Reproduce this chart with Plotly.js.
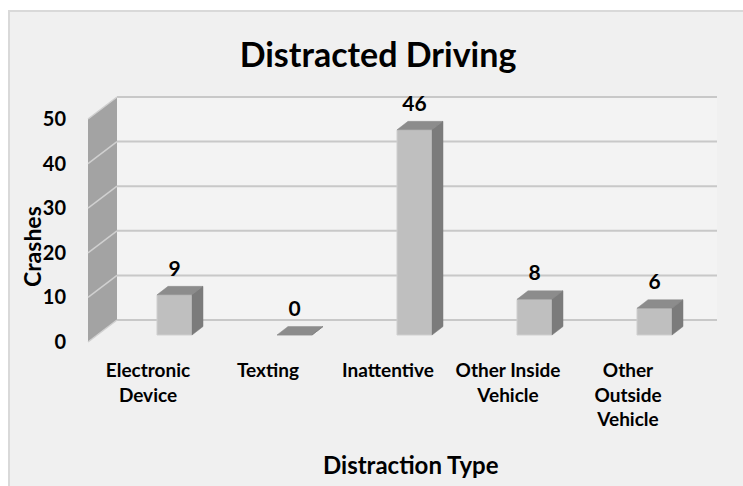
<!DOCTYPE html>
<html>
<head>
<meta charset="utf-8">
<script src="https://cdn.plot.ly/plotly-3.0.1.min.js"></script>
<style>
  html, body { margin:0; padding:0; background:#ffffff; }
  #frame { position:absolute; left:8px; top:10px; width:735px; height:476px;
           background:#f0f0f0; border-left:2px solid #d9d9d9; border-top:2px solid #d9d9d9;
           box-sizing:border-box; }
  #chart { position:absolute; left:0; top:0; width:743px; height:486px; }
</style>
</head>
<body>
<div id="frame"></div>
<div id="chart"></div>
<script>
// ---- data ----
const categories = ['Electronic Device', 'Texting', 'Inattentive', 'Other Inside Vehicle', 'Other Outside Vehicle'];
const tickLabels = ['Electronic<br>Device', 'Texting', 'Inattentive', 'Other Inside<br>Vehicle', 'Other<br>Outside<br>Vehicle'];
const crashes = [9, 0, 46, 8, 6];
const yTicks = [0, 10, 20, 30, 40, 50];

// ---- layout geometry (pixels) ----
const W = 743, H = 486;
const L = 72, R = 730, T = 60, B = 357;
const X0 = 148, PXX = 120;    // pixel of first category (front plane), px per category
const Y0 = 342, PXY = 4.46;   // pixel of value 0 (front plane), px per unit
const xRange = [(L - X0) / PXX, (R - X0) / PXX];
const yRange = [(Y0 - B) / PXY, (Y0 - T) / PXY];
const px2paperX = p => (p - L) / (R - L);
const px2paperY = p => (B - p) / (B - T);

// 3D depth offsets (data units)
const wallDX = 29 / PXX, wallDY = 22 / PXY;
const barShift = 26.5 / PXX, barLift = 7 / PXY, barW = 35 / PXX;
const barDX = 11 / PXX, barDY = 8.5 / PXY;

const FONT = 'Lato, "Open Sans", sans-serif';
const n = categories.length;
const xL = -0.5, xR = n - 0.5;
const yTop = yTicks[yTicks.length - 1];

// ---- walls and gridlines as shapes (below traces) ----
const shapes = [];
shapes.push({ type:'path', xref:'x', yref:'y', layer:'below',
  path:`M ${xL+wallDX},${wallDY} L ${xR+wallDX},${wallDY} L ${xR+wallDX},${yTop+wallDY} L ${xL+wallDX},${yTop+wallDY} Z`,
  fillcolor:'#f3f3f3', line:{width:0} });
shapes.push({ type:'path', xref:'x', yref:'y', layer:'below',
  path:`M ${xL},0 L ${xL+wallDX},${wallDY} L ${xL+wallDX},${yTop+wallDY} L ${xL},${yTop} Z`,
  fillcolor:'#a3a3a3', line:{width:0} });
yTicks.forEach(v => {
  shapes.push({ type:'line', xref:'x', yref:'y', layer:'below',
    x0:xL+wallDX, x1:xR+wallDX, y0:v+wallDY, y1:v+wallDY,
    line:{color:'#c8c8c8', width:2} });
  shapes.push({ type:'line', xref:'x', yref:'y', layer:'below',
    x0:xL, x1:xL+wallDX, y0:v, y1:v+wallDY,
    line:{color:'#d0d0d0', width:1.5} });
});

// ---- bars ----
const xs = crashes.map((v, i) => i + barShift);
const front = {
  type:'bar', x: xs, y: crashes, base: crashes.map(() => barLift), width: barW,
  marker:{ color:'#bfbfbf', line:{color:'#cfcfcf', width:1} },
  hoverinfo:'skip'
};
const topX = [], topY = [], sideX = [], sideY = [];
crashes.forEach((v, i) => {
  const l = xs[i] - barW/2, r = xs[i] + barW/2, t = barLift + v, b = barLift;
  topX.push(l, r, r+barDX, l+barDX, l, null);
  topY.push(t, t, t+barDY, t+barDY, t, null);
  sideX.push(r, r, r+barDX, r+barDX, r, null);
  sideY.push(b, t, t+barDY, b+barDY, b, null);
});
const topFace = { type:'scatter', mode:'lines', x:topX, y:topY, fill:'toself',
  fillcolor:'#8c8c8c', line:{color:'#8c8c8c', width:0.5}, hoverinfo:'skip' };
const sideFace = { type:'scatter', mode:'lines', x:sideX, y:sideY, fill:'toself',
  fillcolor:'#7b7b7b', line:{color:'#7b7b7b', width:0.5}, hoverinfo:'skip' };
const labels = { type:'scatter', mode:'text', x: xs,
  y: crashes.map(v => barLift + v + barDY + 16 / PXY),
  text: crashes.map(String), textposition:'middle center',
  textfont:{ family:FONT, size:21, color:'#000', weight:'bold' }, hoverinfo:'skip' };

const layout = {
  width: W, height: H,
  margin:{ l:L, r:W-R, t:T, b:H-B, pad:0 },
  paper_bgcolor:'rgba(0,0,0,0)', plot_bgcolor:'rgba(0,0,0,0)',
  showlegend:false, hovermode:false,
  title:{ text:'Distracted Driving', xref:'container', yref:'container',
    x: 378 / W, y: 1 - 55 / H, xanchor:'center', yanchor:'middle',
    font:{ family:FONT, size:34, color:'#000', weight:'bold' } },
  xaxis:{ range:xRange, showgrid:false, zeroline:false, showline:false, ticks:'',
    tickmode:'array', tickvals: categories.map((c, i) => i), ticktext: tickLabels,
    tickfont:{ family:FONT, size:19, color:'#000', weight:'bold' }, fixedrange:true },
  yaxis:{ range:yRange, showgrid:false, zeroline:false, showline:false, ticks:'',
    tickmode:'array', tickvals: yTicks, ticktext: yTicks.map(String),
    ticklabelstandoff: 5,
    tickfont:{ family:FONT, size:20, color:'#000', weight:'bold' }, fixedrange:true },
  shapes: shapes,
  annotations:[
    { text:'Crashes', xref:'paper', yref:'paper', x: px2paperX(32), y: px2paperY(247),
      xanchor:'center', yanchor:'middle', showarrow:false, textangle:-90,
      font:{ family:FONT, size:23, color:'#000', weight:'bold' } },
    { text:'Distraction Type', xref:'paper', yref:'paper', x: px2paperX(411), y: px2paperY(464),
      xanchor:'center', yanchor:'middle', showarrow:false,
      font:{ family:FONT, size:24, color:'#000', weight:'bold' } }
  ]
};

Plotly.newPlot('chart', [front, topFace, sideFace, labels], layout, {displayModeBar:false, staticPlot:true});
</script>
</body>
</html>
